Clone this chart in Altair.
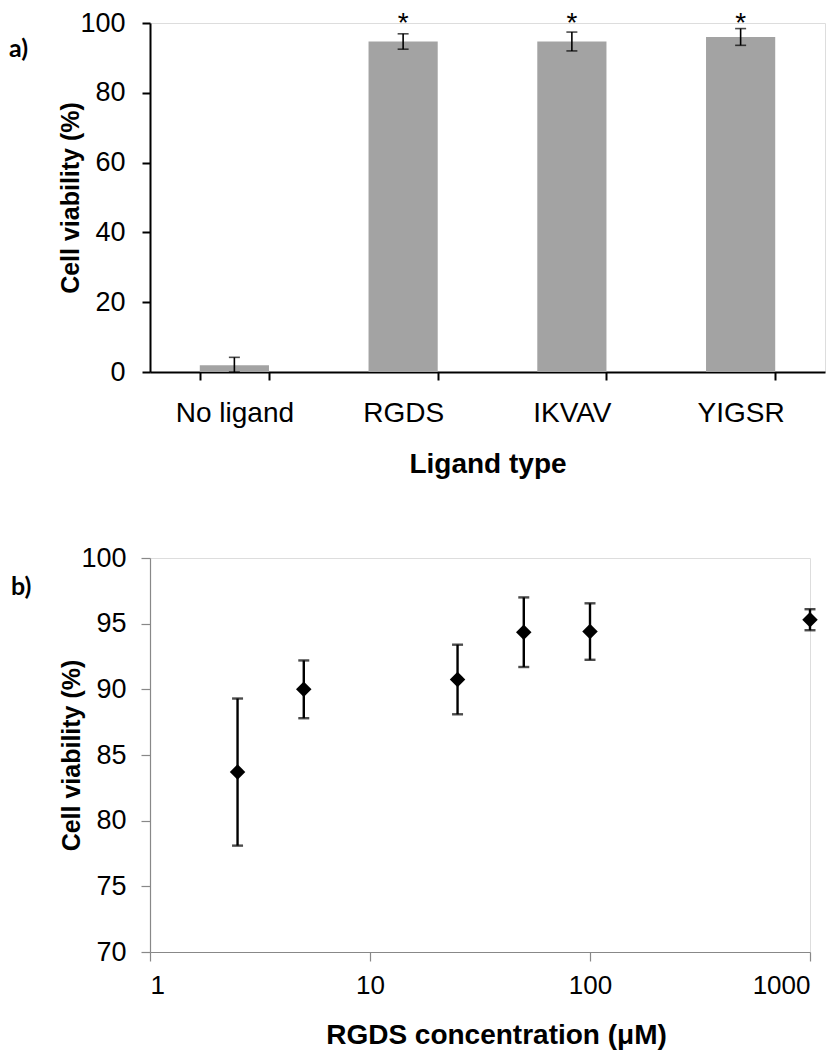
import altair as alt
import pandas as pd

# ---- panel a) data ----
ligands = ["No ligand", "RGDS", "IKVAV", "YIGSR"]
viability = [1.9, 94.7, 94.7, 96.0]
viability_err = [2.3, 2.2, 2.7, 2.4]
significance = ["", "*", "*", "*"]
ticks_a = [0, 20, 40, 60, 80, 100]

# ---- panel b) data ----
conc = [2.5, 5, 25, 50, 100, 1000]
conc_viability = [83.7, 90.0, 90.75, 94.35, 94.4, 95.3]
conc_err = [5.6, 2.2, 2.65, 2.65, 2.15, 0.8]
ticks_b_y = [70, 75, 80, 85, 90, 95, 100]
ticks_b_x = [1, 10, 100, 1000]

FONT = "Liberation Sans"

df_a = pd.DataFrame({
    "ligand": ligands,
    "v": viability,
    "lo": [max(0, v - e) for v, e in zip(viability, viability_err)],
    "hi": [v + e for v, e in zip(viability, viability_err)],
    "star": significance,
})

x_scale_a = alt.Scale(paddingInner=0.59, paddingOuter=0.295)
y_scale_a = alt.Scale(domain=[0, 100], nice=False, clamp=True)

x_axis_a = alt.Axis(
    labelAngle=0, tickBand="extent", domainColor="black", domainWidth=2,
    tickColor="black", tickWidth=2, tickSize=8,
    labelFont=FONT, labelFontSize=28, labelColor="black", labelPadding=19,
    titleFont=FONT, titleFontSize=28, titleFontWeight="bold",
    titleColor="black", titlePadding=23, grid=False,
)
y_axis_a = alt.Axis(
    values=ticks_a, domainColor="black", domainWidth=2,
    tickColor="black", tickWidth=2, tickSize=8,
    labelFont=FONT, labelFontSize=27, labelColor="black", labelPadding=17,
    titleFont=FONT, titleFontSize=25, titleFontWeight="bold",
    titleColor="black", titlePadding=-4, grid=False,
)


def xa():
    return alt.X("ligand:N", sort=ligands, scale=x_scale_a, title="Ligand type", axis=x_axis_a)


def ya(field):
    return alt.Y(field, scale=y_scale_a, title="Cell viability (%)", axis=y_axis_a)


base_a = alt.Chart(df_a)
bars = base_a.mark_bar(color="#a3a3a3").encode(x=xa(), y=ya("v:Q"))
err_a = base_a.mark_errorbar(ticks=True, size=11, thickness=1.6, color="black").encode(
    x=xa(), y=ya("lo:Q"), y2="hi:Q",
)
stars = base_a.mark_text(font=FONT, fontSize=28, color="black", baseline="top").encode(
    x=xa(), y=alt.value(-13), text="star:N",
)
label_a = alt.Chart(pd.DataFrame({"t": ["a)"]})).mark_text(
    font="Lato", fontSize=25, fontWeight="bold", color="black", align="left", baseline="middle"
).encode(x=alt.value(-141), y=alt.value(26), text="t:N")

chart_a = alt.layer(bars, err_a, stars, label_a).properties(width=675, height=349)

# ---- panel b ----
df_b = pd.DataFrame({
    "c": conc,
    "v": conc_viability,
    "lo": [v - e for v, e in zip(conc_viability, conc_err)],
    "hi": [v + e for v, e in zip(conc_viability, conc_err)],
})

GRAY = "#888888"
x_scale_b = alt.Scale(type="log", domain=[1, 1000], nice=False)
y_scale_b = alt.Scale(domain=[70, 100], nice=False, zero=False)

x_axis_b = alt.Axis(
    values=ticks_b_x, format="d", domainColor=GRAY, domainWidth=1.2,
    tickColor=GRAY, tickWidth=1.2, tickSize=9,
    labelFont=FONT, labelFontSize=26, labelColor="black", labelPadding=11,
    titleFont=FONT, titleFontSize=28, titleFontWeight="bold",
    titleColor="black", titlePadding=23, titleX=346, grid=False,
)
y_axis_b = alt.Axis(
    values=ticks_b_y, domainColor=GRAY, domainWidth=1.2,
    tickColor=GRAY, tickWidth=1.2, tickSize=9,
    labelFont=FONT, labelFontSize=27, labelColor="black", labelPadding=15,
    titleFont=FONT, titleFontSize=25, titleFontWeight="bold",
    titleColor="black", titlePadding=-4, grid=False,
)


def xb():
    return alt.X("c:Q", scale=x_scale_b, title="RGDS concentration (\u03bcM)", axis=x_axis_b)


def yb(field):
    return alt.Y(field, scale=y_scale_b, title="Cell viability (%)", axis=y_axis_b)


base_b = alt.Chart(df_b)
err_b = base_b.mark_errorbar(ticks=True, size=11, thickness=2.4, color="black").encode(
    x=xb(), y=yb("lo:Q"), y2="hi:Q",
)
pts = base_b.mark_point(shape="diamond", filled=True, size=240, color="black", opacity=1).encode(
    x=xb(), y=yb("v:Q")
)
label_b = alt.Chart(pd.DataFrame({"t": ["b)"]})).mark_text(
    font="Lato", fontSize=25, fontWeight="bold", color="black", align="left", baseline="middle"
).encode(x=alt.value(-139), y=alt.value(29), text="t:N")

chart_b = alt.layer(pts, err_b, label_b).properties(width=660, height=394)

chart = (
    alt.vconcat(chart_a, chart_b, spacing=64)
    .properties(padding={"left": 0, "top": 0, "right": 0, "bottom": 0})
    .configure_view(strokeWidth=0, stroke="transparent")
    .configure(background="white")
)

chart.save("out.html", embed_options={"renderer": "svg", "actions": False})
